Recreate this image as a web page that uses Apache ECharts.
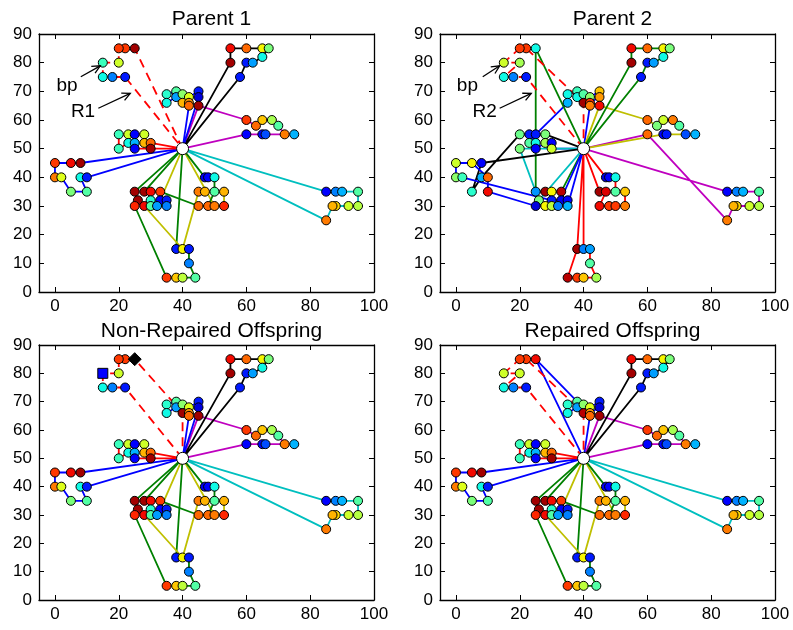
<!DOCTYPE html>
<html><head><meta charset="utf-8">
<script src="https://cdn.jsdelivr.net/npm/echarts@6/dist/echarts.min.js"></script>
<style>html,body{margin:0;padding:0;background:#fff}#c{width:793px;height:630px}</style>
</head><body><div id="c"></div>
<script>
// ---------------- DATA ----------------
const depot = [40, 50];
const panelTitles = ['Parent 1', 'Parent 2', 'Non-Repaired Offspring', 'Repaired Offspring'];
const xTicks = [0, 20, 40, 60, 80, 100];
const customers = [
 [25,85],[22,85],[20,85],[20,80],[15,80],[15,75],[18,75],[22,75],
 [35,69],[35,66],[38,70],[38,68],[40,69],[40,66],[42,68],[42,66],[42,65],[45,70],[45,68],[45,65],
 [20,55],[23,55],[25,55],[28,55],[23,52],[25,52],[28,52],[30,52],[20,50],[25,50],[30,50],
 [0,45],[5,45],[8,45],[0,40],[2,40],[8,40],[10,40],[5,35],[10,35],
 [25,35],[28,35],[30,35],[33,35],[26,32],[30,32],[33,32],[35,32],[25,30],[28,30],[30,30],[32,30],[35,30],
 [38,15],[40,15],[42,15],[42,10],[35,5],[38,5],[40,5],[44,5],
 [47,40],[48,40],[50,40],[45,35],[47,35],[50,35],[53,35],[45,30],[48,30],[50,30],[53,30],
 [60,60],[63,58],[65,60],[68,60],[70,58],[60,55],[65,55],[66,55],[72,55],[75,55],
 [55,85],[60,85],[65,85],[67,85],[65,82],[55,80],[60,80],[62,80],[58,75],
 [85,35],[88,35],[90,35],[95,35],[95,30],[92,30],[88,30],[87,30],[85,25]
];
// colour value (0..1 on the jet scale) of each customer, per parent
const valueParent1 = [
 .97,.85,.85,.60,.42,.37,.25,.15,
 .40,.37,.45,.28,.52,.72,.62,.75,.80,.15,.08,.97,
 .42,.60,.12,.60,.37,.30,.72,.80,.42,.12,.97,
 .85,.90,.97,.78,.62,.37,.15,.50,.45,
 .97,.97,.90,.85,.97,.40,.12,.15,.87,.90,.45,.28,.25,
 .15,.65,.15,.25,.85,.70,.58,.45,
 .10,.12,.37,.78,.72,.45,.72,.80,.80,.78,.87,
 .85,.80,.70,.55,.45,.12,.12,.20,.78,.30,
 .90,.80,.65,.50,.37,.97,.15,.28,.15,
 .12,.25,.30,.45,.57,.60,.68,.72,.78
];
const valueParent2 = [
 .37,.85,.85,.55,.60,.37,.25,.15,
 .37,.30,.42,.37,.45,.97,.52,.85,.78,.70,.75,.90,
 .48,.15,.15,.50,.45,.37,.55,.12,.50,.12,.60,
 .60,.65,.12,.52,.42,.30,.80,.40,.90,
 .27,.97,.65,.95,.50,.15,.10,.12,.08,.65,.58,.25,.30,
 .97,.25,.28,.45,.95,.85,.70,.55,
 .08,.12,.37,.97,.92,.45,.70,.90,.85,.85,.78,
 .80,.50,.60,.78,.45,.80,.12,.15,.20,.30,
 .90,.80,.65,.50,.37,.97,.15,.28,.15,
 .12,.25,.30,.45,.57,.60,.68,.72,.78
];
const nonRepairedChanges = [[40,66,.97]];
const nonRepairedSquare = [[15,80]];
const nonRepairedDiamond = [[25,85]];
const repairedChanges = [[25,85,.90],[15,80,.60],[20,80,.60],[40,66,.95]];

// routes (lists of customer locations), with their colour codes
const routesP1 = [
 [[40,50],[25,85],[22,85],[20,85],[20,80],[15,80],[15,75],[18,75],[22,75],[40,50]],
 [[40,50],[8,45],[5,45],[0,45],[0,40],[2,40],[5,35],[10,35],[8,40],[10,40],[40,50]],
 [[40,50],[25,35],[26,32],[25,30],[35,5],[38,5],[40,5],[44,5],[42,10],[42,15],[38,15],[40,50]],
 [[40,50],[30,52],[28,52],[28,55],[25,55],[23,55],[20,55],[20,50],[23,52],[25,52],[25,50],[30,50],[40,50]],
 [[40,50],[85,35],[88,35],[90,35],[95,35],[95,30],[92,30],[88,30],[87,30],[85,25],[40,50]],
 [[40,50],[45,65],[60,60],[63,58],[65,60],[68,60],[70,58],[72,55],[75,55],[66,55],[65,55],[60,55],[40,50]],
 [[40,50],[33,32],[35,32],[35,30],[32,30],[30,32],[30,30],[28,30],[40,15],[45,35],[47,35],[53,35],[53,30],[50,30],[40,50]],
 [[40,50],[55,80],[55,85],[60,85],[65,85],[67,85],[65,82],[62,80],[60,80],[58,75],[40,50]],
 [[40,50],[45,68],[45,70],[42,68],[40,69],[38,70],[35,69],[35,66],[38,68],[40,66],[42,66],[42,65],[40,50]],
 [[40,50],[28,35],[30,35],[33,35],[45,30],[48,30],[50,35],[50,40],[48,40],[47,40],[40,50]]
];
const routeColorsP1 = ['r--','b','g','r','c','m','y','k','b','g'];
const routesP2 = [
 [[40,50],[22,75],[18,75],[15,75],[20,80],[15,80],[20,85],[22,85],[40,66],[40,50]],
 [[40,50],[30,50],[30,52],[28,52],[25,50],[25,52],[23,52],[25,55],[35,66],[35,69],[38,70],[38,68],[40,69],[42,68],[45,70],[45,68],[42,66],[42,65],[40,50]],
 [[40,50],[25,85],[25,35],[28,35],[30,35],[33,35],[40,50]],
 [[40,50],[38,15],[35,5],[38,5],[40,5],[44,5],[42,10],[42,15],[40,15],[40,50]],
 [[40,50],[20,50],[26,32],[40,50]],
 [[40,50],[85,35],[88,35],[90,35],[95,35],[95,30],[92,30],[88,30],[87,30],[85,25],[60,55],[40,50]],
 [[40,50],[45,65],[60,60],[63,58],[65,60],[68,60],[70,58],[72,55],[75,55],[66,55],[65,55],[40,50]],
 [[40,50],[28,55],[23,55],[20,55],[8,40],[5,35],[8,45],[40,50]],
 [[40,50],[35,30],[35,32],[33,32],[30,32],[2,40],[0,40],[0,45],[5,45],[10,40],[10,35],[25,30],[28,30],[30,30],[32,30],[40,50]],
 [[40,50],[55,80],[55,85],[60,85],[65,85],[67,85],[65,82],[62,80],[60,80],[58,75],[40,50]],
 [[40,50],[45,35],[47,35],[45,30],[48,30],[50,30],[53,30],[53,35],[50,35],[50,40],[48,40],[47,40],[40,50]]
];
const routeColorsP2 = ['r--','b','g','r','c','m','y','k','b','g','r'];
const routeNonRepaired = [[40,50],[22,75],[18,75],[15,75],[15,80],[20,80],[20,85],[22,85],[25,85],[40,66],[40,50]];
const routeRepaired = [[40,50],[22,75],[18,75],[15,75],[20,80],[15,80],[20,85],[22,85],[40,66],[40,50]];
const routeRepairedBlue = [[40,50],[42,65],[42,66],[45,68],[45,70],[42,68],[40,69],[38,68],[35,66],[35,69],[38,70],[25,85],[40,50]];

// annotations: label, label position, arrow start, arrow end (data units)
const annotationsP1 = [['bp',[3.8,71.9],[8.1,75.1],[14.2,78.9]],['R1',[8.8,62.8],[13.6,64.1],[23.6,69.3]]];
const annotationsP2 = [['bp',[3.6,71.9],[8.4,75.1],[13.7,78.9]],['R2',[9.0,62.8],[13.7,64.1],[23.6,69.3]]];

// ---------------- RENDER ----------------
const FONT = '"Liberation Sans", Arial, sans-serif';
const LETTER = {b:'#0000ff', g:'#008000', r:'#ff0000', c:'#00bfbf', m:'#bf00bf', y:'#bfbf00', k:'#000000'};
function interp(t, pts){
  for (let i=1;i<pts.length;i++){ if (t<=pts[i][0]){ const a=pts[i-1], b=pts[i]; return a[1]+(b[1]-a[1])*(t-a[0])/(b[0]-a[0]); } }
  return pts[pts.length-1][1];
}
function jet(t){
  const r=interp(t,[[0,0],[0.35,0],[0.66,1],[0.89,1],[1,0.5]]);
  const g=interp(t,[[0,0],[0.125,0],[0.375,1],[0.64,1],[0.91,0],[1,0]]);
  const b=interp(t,[[0,0.5],[0.11,1],[0.34,1],[0.65,0],[1,0]]);
  return 'rgb('+Math.round(r*255)+','+Math.round(g*255)+','+Math.round(b*255)+')';
}
function withChanges(values, changes, skip){
  const out=[];
  customers.forEach((p,i)=>{
    if (skip && skip.some(s=>s[0]===p[0]&&s[1]===p[1])) return;
    let v=values[i];
    changes.forEach(c=>{ if(c[0]===p[0]&&c[1]===p[1]) v=c[2]; });
    out.push([p[0],p[1],v]);
  });
  return out;
}
const panels = [
  {routes: routesP1, colors: routeColorsP1, points: withChanges(valueParent1, []), notes: annotationsP1},
  {routes: routesP2, colors: routeColorsP2, points: withChanges(valueParent2, []), notes: annotationsP2},
  {routes: [routeNonRepaired].concat(routesP1.slice(1)), colors: routeColorsP1,
   points: withChanges(valueParent1, nonRepairedChanges, nonRepairedSquare.concat(nonRepairedDiamond)), notes: []},
  {routes: [routeRepaired].concat(routesP1.slice(1,8), [routeRepairedBlue], routesP1.slice(9)), colors: routeColorsP1,
   points: withChanges(valueParent1, repairedChanges), notes: []}
];
const gridBoxes = [
  {left:39, top:34, width:335, height:258},
  {left:440, top:34, width:335, height:258},
  {left:39, top:345, width:335, height:255},
  {left:440, top:345, width:335, height:255}
];
const titleTops = [4, 4, 316, 316];

const grid=[], xAxis=[], yAxis=[], series=[], title=[];
const lineAx = {show:true, onZero:false, lineStyle:{color:'#000', width:1.3}};
gridBoxes.forEach((gb,g)=>{
  grid.push(Object.assign({containLabel:false}, gb));
  title.push({text:panelTitles[g], left:gb.left+gb.width/2, top:titleTops[g], textAlign:'center',
    textStyle:{fontFamily:FONT, fontSize:21, fontWeight:'normal', color:'#000'}});
  ['bottom','top'].forEach(pos=>{
    xAxis.push({type:'value', gridIndex:g, position:pos, min:-5, max:100,
      axisLine:lineAx, splitLine:{show:false},
      axisTick:{show:true, inside:true, length:5, customValues:xTicks, lineStyle:{color:'#000', width:1}},
      axisLabel:{show:pos==='bottom', customValues:xTicks, fontFamily:FONT, fontSize:17, color:'#000', margin:6}});
  });
  ['left','right'].forEach(pos=>{
    yAxis.push({type:'value', gridIndex:g, position:pos, min:0, max:90, interval:10,
      axisLine:lineAx, splitLine:{show:false},
      axisTick:{show:true, inside:true, length:5, lineStyle:{color:'#000', width:1}},
      axisLabel:{show:pos==='left', fontFamily:FONT, fontSize:17, color:'#000', margin:7}});
  });
  const P = panels[g];
  const ax = {xAxisIndex:2*g, yAxisIndex:2*g};
  P.routes.forEach((r,i)=>{
    const code=P.colors[i]; const dashed=code.length>1;
    series.push(Object.assign({type:'line', data:r, showSymbol:false, symbol:'none', silent:true, z:2+(dashed?1:0),
      lineStyle:{color:LETTER[code[0]], width:1.8, type: dashed?[9,6]:'solid'}, animation:false}, ax));
  });
  series.push(Object.assign({type:'scatter', data:P.points, symbolSize:9, z:5, silent:true, animation:false,
    itemStyle:{color:(p)=>jet(p.value[2]), borderColor:'#000', borderWidth:1, opacity:1}}, ax));
  series.push(Object.assign({type:'scatter', data:[depot], symbolSize:12, z:6, silent:true, animation:false,
    itemStyle:{color:'#fff', borderColor:'#000', borderWidth:1, opacity:1}}, ax));
  if (g===2){
    series.push(Object.assign({type:'scatter', data:nonRepairedSquare, symbol:'rect', symbolSize:10, z:6, silent:true, animation:false,
      itemStyle:{color:'#0000ff', borderColor:'#000', borderWidth:1, opacity:1}}, ax));
    series.push(Object.assign({type:'scatter', data:nonRepairedDiamond, symbol:'diamond', symbolSize:13, z:6, silent:true, animation:false,
      itemStyle:{color:'#000', borderColor:'#000', borderWidth:1, opacity:1}}, ax));
  }
  if (P.notes.length){
    const notes=P.notes;
    series.push(Object.assign({type:'custom', coordinateSystem:'cartesian2d', silent:true, animation:false, z:7,
      data: notes.map(n=>[n[2][0],n[2][1],n[3][0],n[3][1],n[1][0],n[1][1]]),
      renderItem:(params, api)=>{
        const n=notes[params.dataIndex];
        const a=api.coord([api.value(0),api.value(1)]), b=api.coord([api.value(2),api.value(3)]);
        const t=api.coord([api.value(4),api.value(5)]);
        const ang=Math.atan2(b[1]-a[1], b[0]-a[0]), L=9, w=0.45;
        const h1=[b[0]-L*Math.cos(ang-w), b[1]-L*Math.sin(ang-w)];
        const h2=[b[0]-L*Math.cos(ang+w), b[1]-L*Math.sin(ang+w)];
        return {type:'group', children:[
          {type:'line', shape:{x1:a[0],y1:a[1],x2:b[0],y2:b[1]}, style:{stroke:'#000', lineWidth:1.3}},
          {type:'polyline', shape:{points:[h1,b,h2]}, style:{stroke:'#000', fill:null, lineWidth:1.3}},
          {type:'text', x:t[0], y:t[1], style:{text:n[0], fontFamily:FONT, fontSize:19, fill:'#000', align:'center', verticalAlign:'middle'}}
        ]};
      }}, ax));
  }
});

const chart = echarts.init(document.getElementById('c'), null, {renderer:'canvas'});
chart.setOption({animation:false, backgroundColor:'#fff', title, grid, xAxis, yAxis, series});
</script></body></html>
